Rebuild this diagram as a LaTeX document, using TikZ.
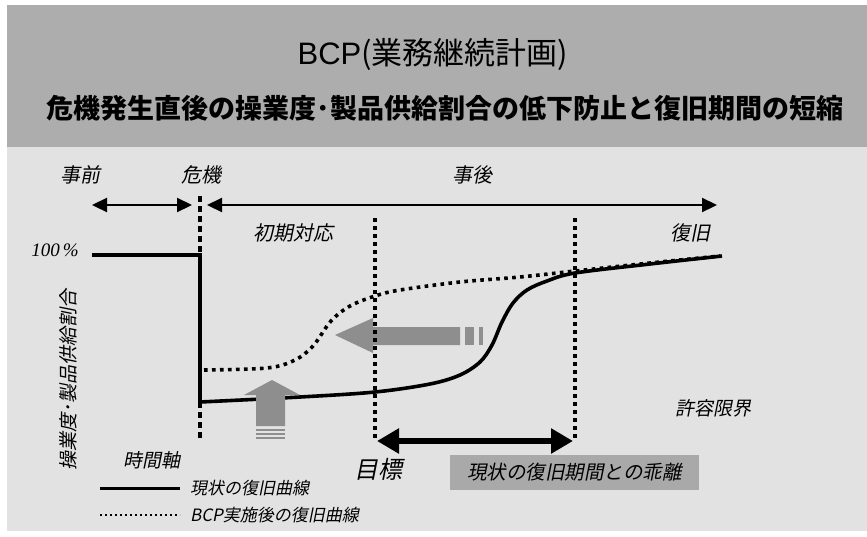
\documentclass[tikz,border=0pt]{standalone}
\usepackage{fontspec}
\newfontfamily\jp{Noto Sans CJK JP}
\newfontfamily\jpi[FakeSlant=0.2]{Noto Sans CJK JP}
\newfontfamily\seri{Liberation Serif}
\newfontfamily\arl{Liberation Sans}
\usetikzlibrary{arrows.meta}
\definecolor{headgray}{HTML}{ADADAD}
\definecolor{bodygray}{HTML}{E2E2E2}
\definecolor{arrgray}{HTML}{8E8E8E}
\definecolor{boxgray}{HTML}{A9A9A9}
\tikzset{
  lbl/.style={font=\jpi\fontsize{20}{22}\selectfont, inner sep=0pt},
  thinarr/.style={line width=2.2pt, {Triangle[length=15pt,width=14pt]}-{Triangle[length=15pt,width=14pt]}},
  vdots/.style={line width=3.6pt, dash pattern=on 3.6pt off 4.4pt},
  cdots/.style={line width=3.6pt, dash pattern=on 3.6pt off 4.4pt},
  curvesolid/.style={line width=3.6pt},
  grayarrow/.style={fill=arrgray, draw=none},
}
\begin{document}
\begin{tikzpicture}[x=1pt,y=-1pt]
\useasboundingbox (0,0) rectangle (867,536);
\fill[white] (0,0) rectangle (867,536);
\fill[bodygray] (7,147) rectangle (867,531);
\fill[headgray] (7,5) rectangle (867,147);

% header
\node[font=\jp\fontsize{31}{33}\selectfont, inner sep=0pt] (title) at (433,55) {{\arl BCP}(業務継続計画)};
\node[font=\jp\bfseries\fontsize{27}{29}\selectfont, inner sep=0pt] (sub) at (445,108) {危機発生直後の操業度･製品供給割合の低下防止と復旧期間の短縮};

% phase labels
\node[lbl] (pre) at (80,175) {事前};
\node[lbl] (crisis) at (201,175) {危機};
\node[lbl] (post) at (472,175) {事後};
\node[lbl] (init) at (293,233) {初期対応};
\node[lbl] (recov) at (690,233) {復旧};
\node[font=\seri\itshape\fontsize{19}{21}\selectfont, inner sep=0pt] (hundred) at (55,250) {100\,\%};
\node[lbl, rotate=90, font=\jpi\fontsize{19}{21}\selectfont] (yaxis) at (68,380) {操業度･製品供給割合};

% time arrows
\coordinate (a1) at (92,205); \coordinate (a2) at (192,205);
\coordinate (b1) at (207,205); \coordinate (b2) at (717,205);
\draw[thinarr] (a1) -- (a2);
\draw[thinarr] (b1) -- (b2);

% solid curve (current recovery)
\coordinate (s0) at (92,255); \coordinate (s1) at (200,255); \coordinate (s2) at (200,402);
\draw[curvesolid, line join=miter] (s0) -- (s1) -- (s2)
  plot[smooth, tension=0.55] coordinates {(200,402) (300,397) (375,392) (430,384) (460,375) (480,362) (492,345) (502,322) (513,303) (527,290) (547,281) (575,273) (650,264) (722,256)};

% dotted curve (after BCP)
\draw[cdots] plot[smooth, tension=0.55] coordinates {(204,370) (267,368) (295,360) (313,346) (331,321) (350,306) (375,296) (400,290) (460,282) (520,277) (575,271) (650,263) (720,256)};

% gray arrows
\draw[grayarrow] (335,335) -- (373,318) -- (373,327) -- (460,327) -- (460,345) -- (373,345) -- (373,353) -- cycle;
\fill[arrgray] (465,327) rectangle (474,345);
\fill[arrgray] (479,327) rectangle (483,345);
\draw[grayarrow] (272,380) -- (300,395) -- (285,395) -- (285,426) -- (256,426) -- (256,395) -- (244,395) -- cycle;
\fill[arrgray] (256,429) rectangle (285,431);
\fill[arrgray] (256,433) rectangle (285,435);
\fill[arrgray] (256,437) rectangle (285,439);

% vertical dotted lines
\coordinate (v0t) at (200,196); \coordinate (v0m) at (200,255);
\coordinate (v0b) at (200,402); \coordinate (v0e) at (200,438);
\draw[line width=3.6pt, dash pattern=on 6pt off 4pt] (v0t) -- (v0m);
\draw[line width=3.6pt, dash pattern=on 6pt off 4pt] (v0b) -- (v0e);
\coordinate (v1t) at (375,218); \coordinate (v1b) at (375,440);
\coordinate (v2t) at (575,218); \coordinate (v2b) at (575,440);
\draw[vdots] (v1t) -- (v1b);
\draw[vdots] (v2t) -- (v2b);

% gap arrow
\coordinate (g1) at (377,441); \coordinate (g2) at (573,441);
\draw[line width=6pt, {Triangle[length=22pt,width=24pt]}-{Triangle[length=22pt,width=24pt]}] (g1) -- (g2);

% lower labels
\node[lbl, font=\jpi\fontsize{19}{21}\selectfont] (tol) at (713,408) {許容限界};
\node[lbl, font=\jpi\fontsize{19}{21}\selectfont] (taxis) at (152,460) {時間軸};
\node[lbl, font=\jpi\fontsize{24}{26}\selectfont] (goal) at (378,469) {目標};
\node[fill=boxgray, minimum width=249pt, minimum height=35pt, inner sep=0pt,
      font=\jpi\fontsize{19.5}{21}\selectfont] (gapbox) at (574.5,472.5) {現状の復旧期間との乖離};

% legend
\coordinate (l1a) at (100,488); \coordinate (l1b) at (180,488);
\coordinate (l2a) at (100,515); \coordinate (l2b) at (180,515);
\draw[line width=3pt] (l1a) -- (l1b);
\draw[line width=2.6pt, dash pattern=on 2.2pt off 2.8pt] (l2a) -- (l2b);
\node[lbl, anchor=west, font=\jpi\fontsize{17}{19}\selectfont] (leg1) at (190,488) {現状の復旧曲線};
\node[lbl, anchor=west, font=\jpi\fontsize{17}{19}\selectfont] (leg2) at (190,515) {BCP実施後の復旧曲線};
\end{tikzpicture}
\end{document}
